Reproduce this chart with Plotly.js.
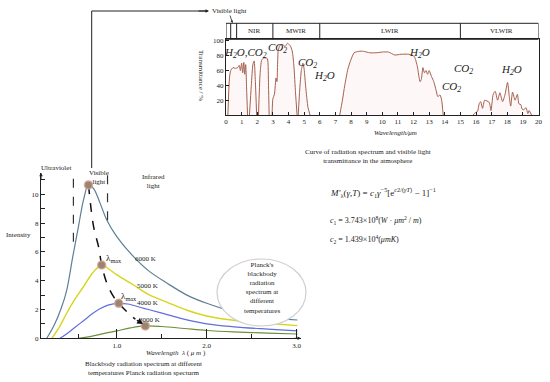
<!DOCTYPE html>
<html>
<head>
<meta charset="utf-8">
<script src="https://cdn.plot.ly/plotly-3.0.1.min.js"></script>
<style>html,body{margin:0;padding:0;background:#fff;}#chart{width:550px;height:382px;}</style>
</head>
<body>
<div id="chart"></div>
<script>
// ---------- Atmospheric transmittance (top panel) ----------
const waveT = [
  0.12,0.22,0.3,0.45,0.6,0.75,0.85,0.92,1.0,1.07,1.14,1.2,1.26,1.32,1.38, null,
  1.5,1.62,1.72,1.8,1.88,1.96, null,
  2.08,2.18,2.28,2.4,2.55,2.65,2.72,2.76, null,
  2.95,3.0,3.1,3.2,3.26,3.34,3.45,3.55,3.66,3.77,3.87,3.94,4.05,4.15,4.25,4.35,4.45,4.55, null,
  4.62,4.72,4.82,4.92,5.0,5.1,5.25,5.38, null,
  7.28,7.45,7.6,7.8,8.0,8.2,8.5,8.8,9.2,9.6,10.0,10.4,10.8,11.2,11.7,12.05,12.25,12.42,12.5,12.6,12.7,12.8,12.9,13.0,13.15,13.3,13.45,13.55,13.7,13.8,13.9, null,
  15.8,15.95,16.1,16.2,16.3,16.42,16.55,16.7,16.85,16.96,17.1,17.23,17.38,17.53,17.7,17.85,18.02,18.13,18.22,18.34,18.5,18.65,18.75,18.87,18.95,19.06,19.2,19.32,19.4,19.55
];
const transT = [
  0,50,60,64,63,64,67,60,70,57,71,55,68,35,0, null,
  0,40,68,73,45,0, null,
  0,55,74,77,77,76,40,0, null,
  0,22,28,50,45,87,94,95,95,92,95,97,95,92,85,65,30,0, null,
  0,35,60,70,62,38,10,0, null,
  0,20,40,62,75,84,86,86,84,84,85,85,81,82,82,79,65,45,48,64,57,60,55,60,52,45,33,25,27,20,0, null,
  0,3,5,15,18,9,20,19,17,6,28,32,20,30,18,27,44,25,12,31,20,28,15,14,8,7,10,2,6,0
];
const xTicksTop = [0,1,2,3,4,5,6,7,8,9,10,11,12,13,14,15,16,17,18,19,20];
const yTicksTop = [20,40,60,80,100];
const bandEdges = [0.3,0.68,3,6,15];
const bandNames = ["NIR","MWIR","LWIR","VLWIR"];
const bandCenters = [1.8,4.5,10.5,17.6];
const gasLabels = ["<i>H<sub>2</sub>O,CO<sub>2</sub></i>","<i>CO<sub>2</sub></i>","<i>CO<sub>2</sub></i>","<i>H<sub>2</sub>O</i>","<i>H<sub>2</sub>O</i>","<i>CO<sub>2</sub></i>","<i>CO<sub>2</sub></i>","<i>H<sub>2</sub>O</i>"];
const gasLabelX = [1.25,3.3,5.2,6.3,12.4,15.2,14.4,18.3];
const gasLabelY = [84,90,70,52,84,62,38,61];

// ---------- Planck curves (bottom panel) ----------
const lam6000 = [0.218,0.3,0.38,0.441,0.508,0.571,0.627,0.683,0.74,0.813,0.888,1.0,1.185,1.35,1.56,1.78,2.0,2.3,2.68,3.01];
const int6000 = [0,0.9,2.1,3.35,5.67,7.75,9.6,10.65,10.4,9.37,8.2,7.05,5.67,4.7,3.82,3.0,2.43,1.85,1.46,1.27];
const lam5000 = [0.274,0.36,0.44,0.53,0.627,0.73,0.83,0.9,1.0,1.185,1.35,1.56,1.78,2.0,2.3,2.6,3.01];
const int5000 = [0,0.8,1.74,2.7,3.58,4.55,5.09,4.85,4.4,3.7,3.05,2.5,1.95,1.55,1.25,1.08,0.88];
const lam4000 = [0.367,0.45,0.53,0.627,0.72,0.81,0.9,1.02,1.12,1.3,1.48,1.7,2.0,2.3,2.68,3.01];
const int4000 = [0,0.35,0.75,1.22,1.68,2.05,2.3,2.43,2.38,2.08,1.78,1.4,1.0,0.8,0.64,0.52];
const lam3000 = [0.57,0.7,0.85,1.0,1.15,1.316,1.5,1.75,2.0,2.3,2.68,3.01];
const int3000 = [0,0.12,0.33,0.52,0.72,0.86,0.82,0.68,0.54,0.44,0.36,0.3];
const peakLam = [0.683,0.83,1.02,1.316];
const peakInt = [10.65,5.09,2.43,0.86];
const wienLam = [0.683,0.74,0.795,0.83,0.888,0.962,1.02,1.11,1.205];
const wienInt = [10.65,7.75,6.36,5.09,3.82,2.89,2.43,1.85,1.32];
const tempLabels = ["6000 K","5000 K","4000 K","3000 K"];
const tempLabelLam = [1.18,1.2,1.2,1.22];
const tempLabelInt = [5.5,3.6,2.45,1.3];
const xTicksBot = [1,2,3];
const xTickTextBot = ["1.0","2.0","3.0"];
const xMinorBot = [0.57,1.5,2.5];
const yTicksBot = [0,2,4,6,8,10];
const yMinorBot = [1,3,5,7,9,11];

const W = 550, H = 382;
const px = x => x / W;
const py = y => 1 - y / H;
const SERIF = "Liberation Serif, Times New Roman, serif";
const TXT = "#222";

const traces = [
  {x: waveT, y: transT, xaxis: "x", yaxis: "y", type: "scatter", mode: "lines",
   line: {color: "#a5604e", width: 1, shape: "spline", smoothing: 0.6},
   fill: "tozeroy", fillcolor: "rgba(240,170,170,0.09)", connectgaps: false, hoverinfo: "skip"},
  {x: lam6000, y: int6000, xaxis: "x2", yaxis: "y2", mode: "lines", line: {color: "#5e7f96", width: 1.2, shape: "spline"}},
  {x: lam5000, y: int5000, xaxis: "x2", yaxis: "y2", mode: "lines", line: {color: "#d6d51e", width: 1.4, shape: "spline"}},
  {x: lam4000, y: int4000, xaxis: "x2", yaxis: "y2", mode: "lines", line: {color: "#5f6fdc", width: 1.2, shape: "spline"}},
  {x: lam3000, y: int3000, xaxis: "x2", yaxis: "y2", mode: "lines", line: {color: "#6d8f3c", width: 1.2, shape: "spline"}},
  {x: wienLam, y: wienInt, xaxis: "x2", yaxis: "y2", mode: "lines", line: {color: "#111", width: 1.5, dash: "dash", shape: "spline"}},
  {x: peakLam, y: peakInt, xaxis: "x2", yaxis: "y2", mode: "markers",
   marker: {size: 8, color: "#9a8670", line: {color: "rgba(215,160,150,0.8)", width: 1.5}}}
];

const annotations = [];
const A = (o) => annotations.push(Object.assign({showarrow: false, font: {family: SERIF, size: 7, color: TXT}}, o));

// Top panel band labels
bandNames.forEach((n, i) => A({text: n, xref: "x", yref: "paper", x: bandCenters[i], y: py(31.3), xanchor: "center", yanchor: "middle", font: {family: SERIF, size: 7, color: TXT}}));
gasLabels.forEach((t, i) => A({text: t, xref: "x", yref: "y", x: gasLabelX[i], y: gasLabelY[i], xanchor: "center", yanchor: "middle", font: {family: SERIF, size: 11, color: "#222"}}));
A({text: "<i>Wavelength/μm</i>", xref: "paper", yref: "paper", x: px(395), y: py(133), xanchor: "center", yanchor: "middle", font: {family: SERIF, size: 7, color: TXT}});
A({text: "Transmittance / %", xref: "paper", yref: "paper", x: px(201), y: py(75), textangle: 90, xanchor: "center", yanchor: "middle", font: {family: SERIF, size: 7, color: TXT}});
A({text: "Visible light", xref: "paper", yref: "paper", x: px(210), y: py(10.5), xanchor: "left", yanchor: "middle", font: {family: SERIF, size: 7, color: TXT}});
// connector arrowheads
annotations.push({xref: "paper", yref: "paper", x: px(209), y: py(11), ax: -12, ay: 0, showarrow: true, arrowhead: 2, arrowsize: 0.7, arrowwidth: 1, arrowcolor: "#222", text: ""});
annotations.push({xref: "paper", yref: "paper", x: px(232.5), y: py(23), ax: -3, ay: -9, showarrow: true, arrowhead: 2, arrowsize: 0.6, arrowwidth: 0.8, arrowcolor: "#222", text: ""});

// Middle captions and formula
A({text: "Curve of radiation spectrum and visible light<br>transmittance in the atmosphere", xref: "paper", yref: "paper", x: px(368), y: py(157), xanchor: "center", yanchor: "middle", font: {family: SERIF, size: 7, color: TXT}});
A({text: "<i>M'</i><sub>λ</sub>(<i>γ</i>,<i>T</i>) = <i>c</i><sub>1</sub><i>γ</i><sup>−5</sup>[e<sup><i>c</i>2/(<i>γT</i>)</sup> − 1]<sup>−1</sup>", xref: "paper", yref: "paper", x: px(328), y: py(193), xanchor: "left", yanchor: "middle", font: {family: SERIF, size: 9, color: TXT}});
A({text: "<i>c</i><sub>1</sub> = 3.743×10<sup>8</sup>(<i>W</i> · <i>μm</i><sup>2</sup> / <i>m</i>)", xref: "paper", yref: "paper", x: px(328), y: py(220), xanchor: "left", yanchor: "middle", font: {family: SERIF, size: 8, color: TXT}});
A({text: "<i>c</i><sub>2</sub> = 1.439×10<sup>4</sup>(<i>μmK</i>)", xref: "paper", yref: "paper", x: px(328), y: py(239), xanchor: "left", yanchor: "middle", font: {family: SERIF, size: 8, color: TXT}});

// Bottom panel labels
A({text: "Ultraviolet", xref: "paper", yref: "paper", x: px(56), y: py(168), xanchor: "center", yanchor: "middle"});
A({text: "Visible<br>light", xref: "paper", yref: "paper", x: px(99), y: py(177), xanchor: "center", yanchor: "middle"});
A({text: "Infrared<br>light", xref: "paper", yref: "paper", x: px(153), y: py(181), xanchor: "center", yanchor: "middle"});
A({text: "Intensity", xref: "paper", yref: "paper", x: px(18), y: py(235), xanchor: "center", yanchor: "middle"});
tempLabels.forEach((t, i) => A({text: t, xref: "x2", yref: "y2", x: tempLabelLam[i], y: tempLabelInt[i], xanchor: "left", yanchor: "middle", font: {family: SERIF, size: 7, color: TXT}}));
A({text: "λ<sub>max</sub>", xref: "paper", yref: "paper", x: px(104), y: py(258), xanchor: "left", yanchor: "middle", font: {family: SERIF, size: 9, color: TXT}});
A({text: "λ<sub>max</sub>", xref: "paper", yref: "paper", x: px(119), y: py(296), xanchor: "left", yanchor: "middle", font: {family: SERIF, size: 9, color: TXT}});
A({text: "<i>Wavelength</i>  <i>λ</i> ( <i>μ m</i> )", xref: "paper", yref: "paper", x: px(176), y: py(353), xanchor: "center", yanchor: "middle", font: {family: SERIF, size: 7, color: TXT}});
A({text: "Blackbody radiation spectrum at different<br>temperatures Planck radiation specturm", xref: "paper", yref: "paper", x: px(143), y: py(368), xanchor: "center", yanchor: "middle", font: {family: SERIF, size: 7, color: TXT}});
A({text: "Planck's<br>blackbody<br>radiation<br>spectrum at<br>different<br>temperatures", xref: "paper", yref: "paper", x: px(262), y: py(288), xanchor: "center", yanchor: "middle", font: {family: SERIF, size: 7, color: TXT}});
// Wien arrow head & axis arrows
annotations.push({xref: "x2", yref: "y2", axref: "x2", ayref: "y2", x: 1.29, y: 1.0, ax: 1.205, ay: 1.32, showarrow: true, arrowhead: 2, arrowsize: 0.9, arrowwidth: 1.3, arrowcolor: "#111", text: ""});
annotations.push({xref: "x2", yref: "y2", axref: "x2", ayref: "y2", x: 3.05, y: 0, ax: 2.96, ay: 0, showarrow: true, arrowhead: 2, arrowsize: 0.7, arrowwidth: 1, arrowcolor: "#222", text: ""});
annotations.push({xref: "x2", yref: "y2", axref: "x2", ayref: "y2", x: 0.154, y: 11.5, ax: 0.154, ay: 10.9, showarrow: true, arrowhead: 2, arrowsize: 0.7, arrowwidth: 1, arrowcolor: "#222", text: ""});

const shapes = [
  // band box
  {type: "rect", xref: "x", yref: "paper", x0: 0, x1: 20, y0: py(39.3), y1: py(23.3), line: {color: "#222", width: 1}},
  ...bandEdges.map(e => ({type: "line", xref: "x", yref: "paper", x0: e, x1: e, y0: py(39.3), y1: py(23.3), line: {color: "#222", width: 1}})),
  // connector line
  {type: "path", xref: "paper", yref: "paper", path: `M ${px(91.7)} ${py(168)} L ${px(91.7)} ${py(11)} L ${px(206)} ${py(11)}`, line: {color: "#222", width: 1}},
  // UV / visible dashed boundaries
  {type: "line", xref: "x2", yref: "y2", x0: 0.515, x1: 0.515, y0: 6.7, y1: 11.45, line: {color: "#333", width: 1.2, dash: "dash"}},
  {type: "line", xref: "x2", yref: "y2", x0: 0.895, x1: 0.895, y0: 8.2, y1: 11.45, line: {color: "#333", width: 1.2, dash: "dash"}},
  // speech bubble
  {type: "circle", xref: "paper", yref: "paper", layer: "above", x0: px(217), x1: px(306), y0: py(326), y1: py(259),
   fillcolor: "#fff", line: {color: "#cfcfcf", width: 1.2}}
];

const layout = {
  width: W, height: H, margin: {l: 0, r: 0, t: 0, b: 0},
  paper_bgcolor: "#fff", plot_bgcolor: "rgba(0,0,0,0)", showlegend: false,
  font: {family: SERIF, size: 7, color: TXT},
  xaxis: {domain: [px(226), px(538.5)], range: [0, 20], anchor: "y", tickvals: xTicksTop, ticks: "inside", ticklen: 3, tickcolor: "#222",
          showline: true, mirror: true, linecolor: "#222", linewidth: 1, showgrid: false, zeroline: false,
          tickfont: {family: SERIF, size: 7, color: TXT}},
  yaxis: {domain: [py(115), py(39.3)], range: [0, 102.2], anchor: "x", tickvals: yTicksTop, ticks: "inside", ticklen: 3, tickcolor: "#222",
          showline: true, mirror: true, linecolor: "#222", linewidth: 1, showgrid: false, zeroline: false,
          tickfont: {family: SERIF, size: 7, color: TXT}},
  xaxis2: {domain: [px(41), px(301)], range: [0.154, 3.05], anchor: "y2", tickvals: xTicksBot, ticktext: xTickTextBot, ticks: "inside", ticklen: 9, tickwidth: 1.2, tickcolor: "#222",
           minor: {tickvals: xMinorBot, ticks: "inside", ticklen: 4, tickcolor: "#222", tickwidth: 1.2, showgrid: false},
           showline: true, linecolor: "#222", linewidth: 1, showgrid: false, zeroline: false,
           tickfont: {family: SERIF, size: 7, color: TXT}},
  yaxis2: {domain: [py(338.3), py(173)], range: [0, 11.48], anchor: "x2", tickvals: yTicksBot, ticks: "inside", ticklen: 4, tickcolor: "#222",
           minor: {tickvals: yMinorBot, ticks: "inside", ticklen: 4, tickcolor: "#222", showgrid: false},
           showline: true, linecolor: "#222", linewidth: 1, showgrid: false, zeroline: false,
           tickfont: {family: SERIF, size: 7, color: TXT}},
  annotations: annotations,
  shapes: shapes
};

Plotly.newPlot("chart", traces, layout, {displayModeBar: false});
</script>
</body>
</html>
